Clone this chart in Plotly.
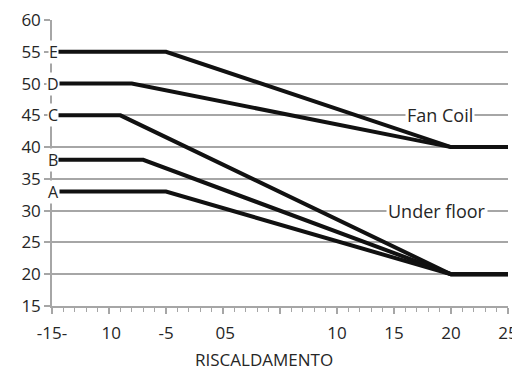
import plotly.graph_objects as go

# curve data (x = outdoor temp, y = water temp)
names = ["E", "D", "C", "B", "A"]
xs = [
    [-15, -5, 20, 25],
    [-15, -8, 20, 25],
    [-15, -9, 20, 25],
    [-15, -7, 20, 25],
    [-15, -5, 20, 25],
]
ys = [
    [55, 55, 40, 40],
    [50, 50, 40, 40],
    [45, 45, 20, 20],
    [38, 38, 20, 20],
    [33, 33, 20, 20],
]

tick_vals = [-15, -10, -5, 0, 5, 10, 15, 20, 25]
tick_text = ["-15-", " 10", "-5", " 05", "", "10", "15", "20", "25"]
y_vals = [15, 20, 25, 30, 35, 40, 45, 50, 55, 60]

zones = ["Fan Coil", "Under floor"]
zone_x = [19, 18.8]
zone_y = [45, 30]

x_title = "RISCALDAMENTO"

grid = "#a6a6a6"
font = "Open Sans, DejaVu Sans, sans-serif"

fig = go.Figure()

for n, x, y in zip(names, xs, ys):
    fig.add_trace(go.Scatter(x=x, y=y, mode="lines", name=n,
                             line=dict(color="#111111", width=4)))
    # letter label at left end
    fig.add_annotation(x=x[0], y=y[0], text=n, showarrow=False,
                       bgcolor="white", borderpad=0, xshift=1,
                       font=dict(size=16, color="#262626", family=font))

for t, x, y in zip(zones, zone_x, zone_y):
    fig.add_annotation(x=x, y=y, text=t, showarrow=False,
                       bgcolor="white", borderpad=1,
                       font=dict(size=18, color="#262626", family=font))

# axis title sits a bit left of centre in the original
fig.add_annotation(x=0.465, y=0, xref="paper", yref="paper",
                   text=x_title, showarrow=False, yanchor="middle",
                   yshift=-53, font=dict(size=17, color="#262626", family=font))

# page body has an 8px margin, so the figure is shrunk to fit the window
fig.update_layout(
    width=512, height=364,
    margin=dict(l=44, r=12, t=12, b=66),
    plot_bgcolor="white", paper_bgcolor="white",
    showlegend=False,
    font=dict(family=font, size=17, color="#262626"),
)
fig.update_xaxes(
    range=[-15, 25], tickvals=tick_vals, ticktext=tick_text,
    showgrid=False, zeroline=False, automargin=False,
    ticklabeloverflow="allow", ticklabelstandoff=5,
    showline=True, linecolor=grid, linewidth=1.5,
    ticks="outside", ticklen=6, tickcolor=grid, tickwidth=1.5,
    minor=dict(ticks="outside", dtick=1, ticklen=4, tickcolor=grid, tickwidth=1),
    tickfont=dict(size=17),
)
fig.update_yaxes(
    range=[15, 60], tickvals=y_vals,
    showgrid=True, gridcolor=grid, gridwidth=1.5, zeroline=False,
    automargin=False, ticklabeloverflow="allow",
    showline=True, linecolor=grid, linewidth=1.5,
    ticks="outside", ticklen=6, tickcolor=grid, tickwidth=1.5,
    tickfont=dict(size=17),
)

fig.write_html("out.html")
